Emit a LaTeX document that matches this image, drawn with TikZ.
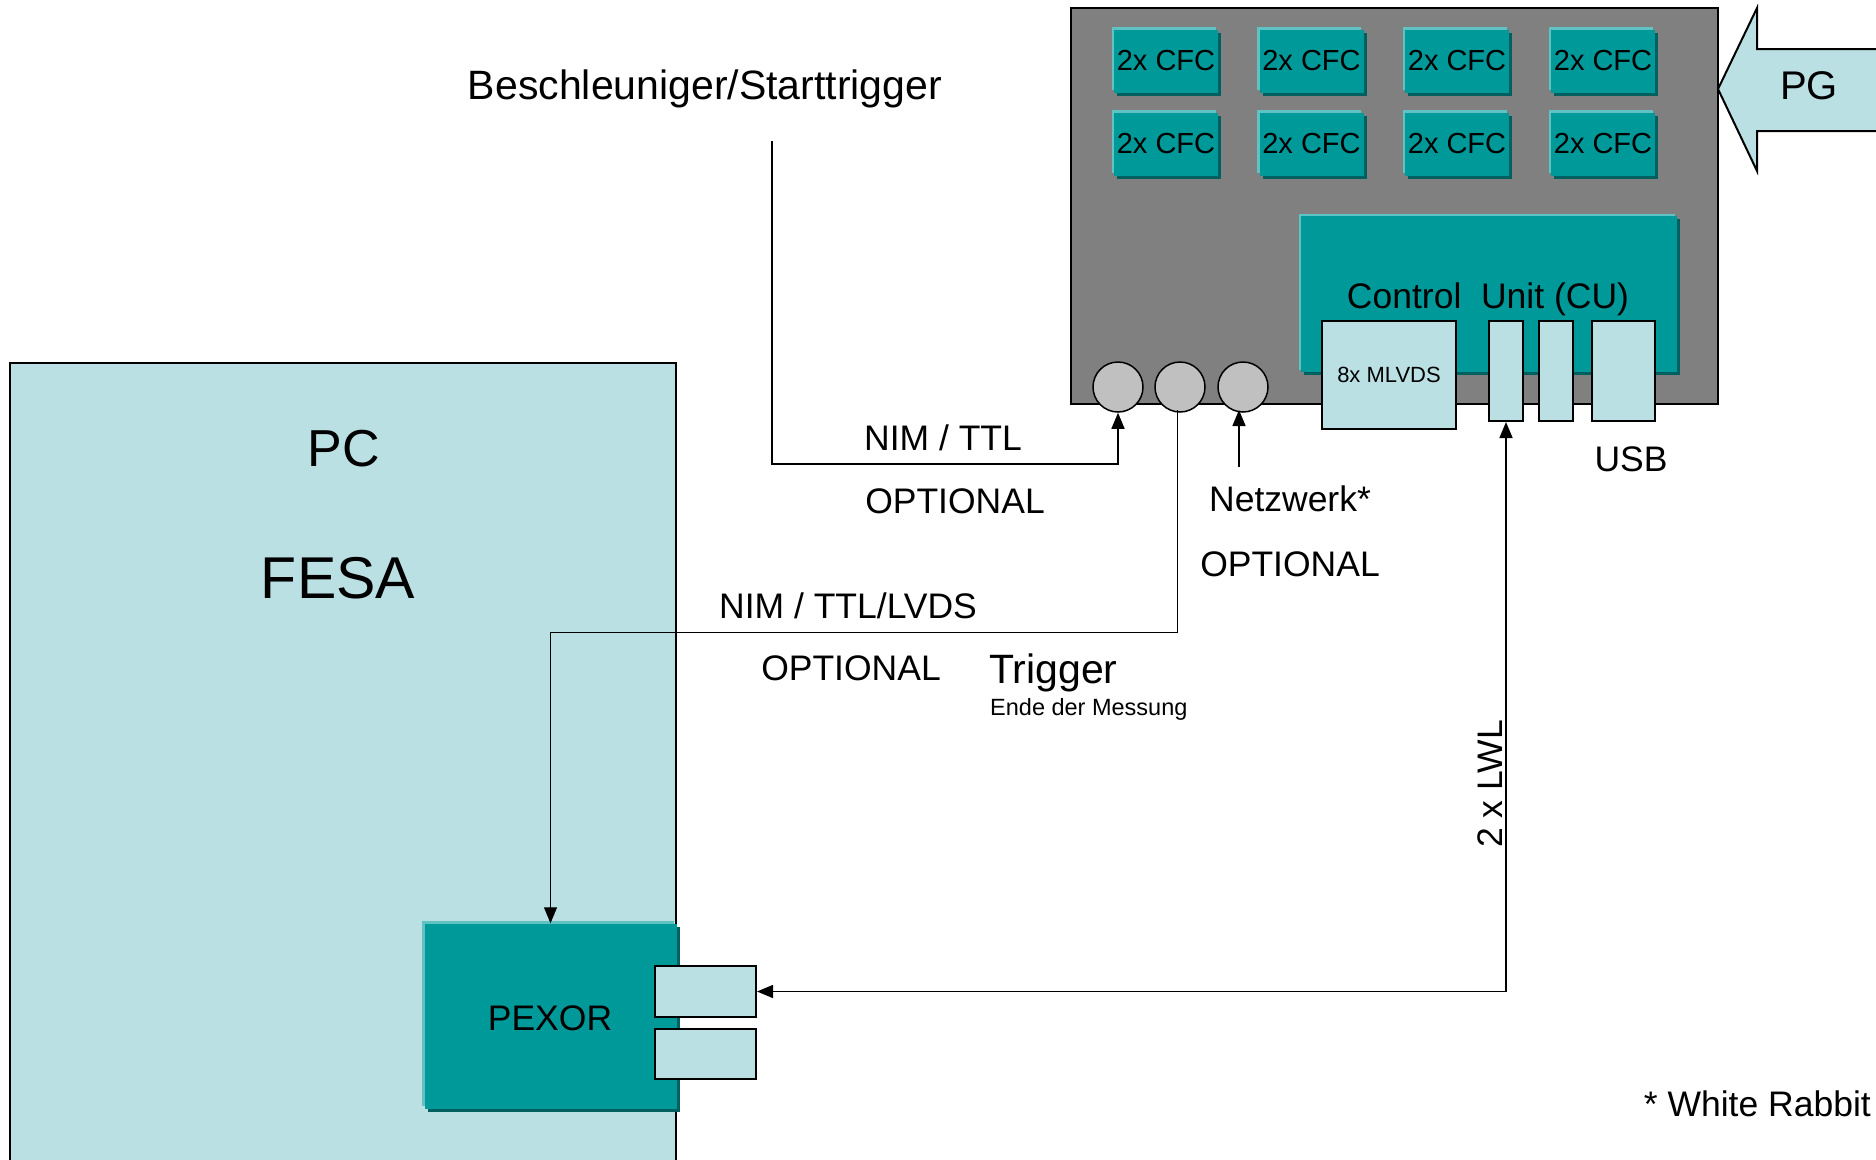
\documentclass[tikz,border=0pt]{standalone}
\usepackage{fontspec}
\setmainfont{Liberation Sans}
\usetikzlibrary{arrows.meta}
\definecolor{tealmain}{RGB}{0,153,153}
\definecolor{teallight}{RGB}{95,195,195}
\definecolor{tealdark}{RGB}{0,95,95}
\definecolor{lightcyan}{RGB}{187,224,227}
\definecolor{boxgray}{RGB}{128,128,128}
\definecolor{portgray}{RGB}{192,192,192}
\begin{document}
\begin{tikzpicture}[x=1pt,y=-1pt,
  txt/.style={inner sep=0pt, font=\fontsize{#1}{#1}\selectfont},
  tealbox/.style={fill=tealmain, draw=none, inner sep=0pt,
    preaction={fill=teallight, transform canvas={shift={(-2.5pt,2.5pt)}}},
    preaction={fill=tealdark, transform canvas={shift={(3pt,-3pt)}}}},
  cfc/.style={tealbox, minimum width=104, minimum height=63, font=\fontsize{29}{29}\selectfont},
  cyanbox/.style={fill=lightcyan, draw=black, line width=2pt, inner sep=0pt},
  port/.style={circle, fill=portgray, draw=black, line width=1.5pt, minimum size=50, inner sep=0pt},
  conn/.style={line width=1.5pt},
  arr/.style={conn, -{Triangle[length=16pt,width=13pt]}},
  arrboth/.style={conn, {Triangle[length=16pt,width=13pt]}-{Triangle[length=16pt,width=13pt]}}
]
\useasboundingbox (0,0) rectangle (1876,1159);

% PC box
\node[fill=lightcyan, draw=black, line width=1.5pt, minimum width=666, minimum height=817, inner sep=0pt] (pc) at (343,771.5) {};
\node[txt=52, anchor=base] (pclabel) at (344,466) {PC};
\node[txt=59, anchor=base] (fesa) at (338,598) {FESA};

% PEXOR
\node[tealbox, minimum width=252, minimum height=185] (pexor) at (550.5,1016) {};
\node[txt=35.5, anchor=base] (pexorlabel) at (550,1030) {PEXOR};
\node[cyanbox, minimum width=101, minimum height=51] (pp1) at (705.5,991.5) {};
\node[cyanbox, minimum width=101, minimum height=50] (pp2) at (705.5,1054) {};

% Frontend crate
\node[fill=boxgray, draw=black, line width=2pt, minimum width=647, minimum height=396, inner sep=0pt] (crate) at (1394.5,206) {};
\foreach \cx [count=\i] in {1166,1311.5,1457,1603}{
  \node[cfc] (cfca\i) at (\cx,61) {2x CFC};
  \node[cfc] (cfcb\i) at (\cx,144) {2x CFC};
}
\node[tealbox, minimum width=376, minimum height=156] (cu) at (1489,294) {};
\node[txt=35.5, anchor=base] (culabel) at (1488,308) {Control\ \ Unit (CU)};
\node[port] (c1) at (1118,387) {};
\node[port] (c2) at (1180,387) {};
\node[port] (c3) at (1243,387) {};
\node[cyanbox, minimum width=134, minimum height=108, font=\fontsize{22}{22}\selectfont] (mlvds) at (1389,375) {8x MLVDS};
\node[cyanbox, minimum width=34, minimum height=100] (cup1) at (1506,371) {};
\node[cyanbox, minimum width=34, minimum height=100] (cup2) at (1556,371) {};
\node[cyanbox, minimum width=63, minimum height=100] (usb) at (1623.5,371) {};
\node[txt=35.5, anchor=base] (usblabel) at (1631,471) {USB};

% PG arrow
\draw[line width=2pt, fill=lightcyan] (1718,89) -- (1757,8) -- (1757,49) -- (1895,49) -- (1895,131) -- (1757,131) -- (1757,171) -- cycle;
\node[txt=40, anchor=base] (pg) at (1809,99) {PG};

% texts
\node[txt=41, anchor=base] (beschl) at (705,99) {Beschleuniger/Starttrigger};
\node[txt=35.5, anchor=base] (nimttl) at (943,450) {NIM / TTL};
\node[txt=35.5, anchor=base] (opt1) at (955,513) {OPTIONAL};
\node[txt=35.5, anchor=base] (nimlvds) at (848,618) {NIM / TTL/LVDS};
\node[txt=35.5, anchor=base] (opt2) at (851,680) {OPTIONAL};
\node[txt=41, anchor=base west] (trigger) at (989,683) {Trigger};
\node[txt=23.5, anchor=base west] (ende) at (990,715) {Ende der Messung};
\node[txt=35.5, anchor=base] (netz) at (1290,511) {Netzwerk*};
\node[txt=35.5, anchor=base] (opt3) at (1290,576) {OPTIONAL};
\node[txt=35.5, rotate=90] (lwl) at (1490,784) {2 x LWL};
\node[txt=35.5, anchor=base east] (wr) at (1871,1116) {* White Rabbit};

% connectors
\coordinate (bs) at (772,141);
\coordinate (bturn) at (772,464);
\draw[arr] (bs) -- (bturn) -| (c1.south);
\coordinate (c2out) at (1177,410);
\coordinate (trg) at (pexor.north |- 0,632);
\draw[line width=1pt, -{Triangle[length=16pt,width=13pt]}] (c2out) |- (trg) -- (pexor.north);
\coordinate (nw) at (1239,467);
\coordinate (c3in) at (1239,410);
\draw[arr] (nw) -- (c3in);
\draw[arrboth] (pp1.east) -| (cup1.south);
\end{tikzpicture}
\end{document}
